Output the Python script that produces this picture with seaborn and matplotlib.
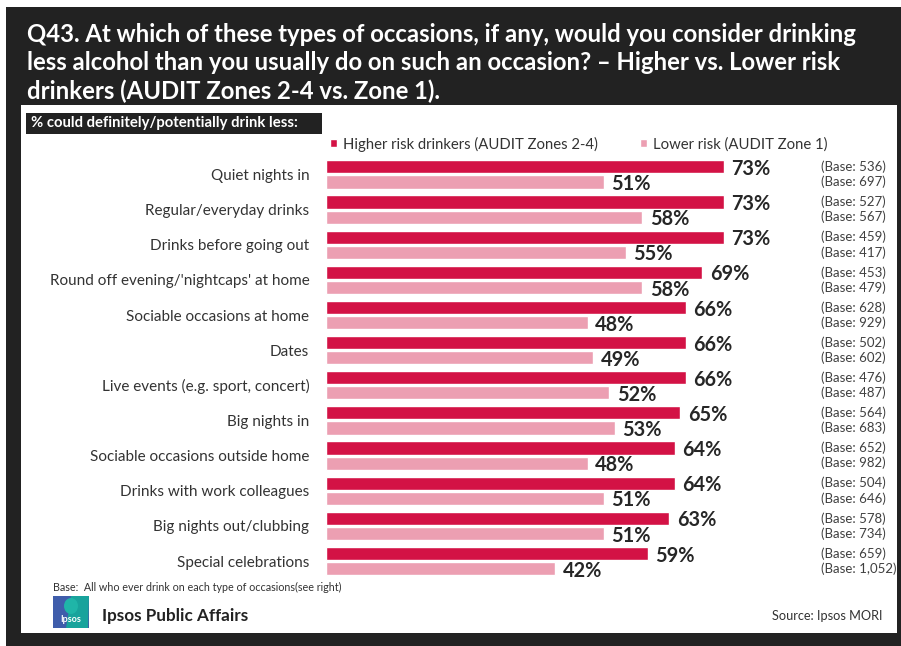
import numpy as np
import pandas as pd
import matplotlib
matplotlib.use('Agg')
import matplotlib.pyplot as plt
import matplotlib.transforms as mtransforms
from matplotlib.patches import Rectangle, Polygon, Ellipse
import seaborn as sns

# --- data ---
occasions = [
    "Quiet nights in", "Regular/everyday drinks", "Drinks before going out",
    "Round off evening/'nightcaps' at home", "Sociable occasions at home", "Dates",
    "Live events (e.g. sport, concert)", "Big nights in", "Sociable occasions outside home",
    "Drinks with work colleagues", "Big nights out/clubbing", "Special celebrations",
]
higher_risk = [73, 73, 73, 69, 66, 66, 66, 65, 64, 64, 63, 59]
lower_risk = [51, 58, 55, 58, 48, 49, 52, 53, 48, 51, 51, 42]
higher_base = ["536", "527", "459", "453", "628", "502", "476", "564", "652", "504", "578", "659"]
lower_base = ["697", "567", "417", "479", "929", "602", "487", "683", "982", "646", "734", "1,052"]
series_names = ["Higher risk drinkers (AUDIT Zones 2-4)", "Lower risk (AUDIT Zone 1)"]

title = ("Q43. At which of these types of occasions, if any, would you consider drinking\n"
         "less alcohol than you usually do on such an occasion? \u2013 Higher vs. Lower risk\n"
         "drinkers (AUDIT Zones 2-4 vs. Zone 1).")

RED = "#D31245"
PINK = "#EC9FB2"
DARK = "#222222"

df = pd.DataFrame({
    "occasion": occasions * 2,
    "value": higher_risk + lower_risk,
    "series": [series_names[0]] * len(occasions) + [series_names[1]] * len(occasions),
})

sns.set_style("white")
plt.rcParams["font.family"] = ["Lato", "DejaVu Sans"]

W, H = 901, 646
fig = plt.figure(figsize=(W / 100, H / 100), dpi=100)


def fx(px):
    return px / W


def fy(py):
    return 1 - py / H


# dark frame + white panel
fig.add_artist(Rectangle((fx(6), 0), fx(901) - fx(6), fy(7), transform=fig.transFigure,
                         facecolor=DARK, edgecolor="none", zorder=0))
fig.add_artist(Rectangle((fx(21), fy(633)), fx(897) - fx(21), fy(105) - fy(633),
                         transform=fig.transFigure, facecolor="white", edgecolor="none", zorder=0))

fig.text(fx(27), fy(23.5), title, color="white", fontsize=17.2, fontweight="bold",
         va="top", ha="left", linespacing=1.25)

# subtitle box
fig.add_artist(Rectangle((fx(26), fy(134)), fx(322) - fx(26), fy(113) - fy(134),
                         transform=fig.transFigure, facecolor=DARK, edgecolor="none", zorder=1))
fig.text(fx(31), fy(123.5), "% could definitely/potentially drink less:", color="white",
         fontsize=10.7, fontweight="bold", va="center", ha="left", zorder=2)

# --- bars ---
ax = fig.add_axes([fx(326), fy(578.6), 545 / W, 421.7 / H])
sns.barplot(data=df, y="occasion", x="value", hue="series", orient="h",
            palette=[RED, PINK], saturation=1, width=0.86, gap=0.13, ax=ax)
ax.set_xlim(0, 100)
ax.set_xlabel("")
ax.set_ylabel("")
ax.set_xticks([])
ax.tick_params(axis="y", length=0, pad=12, labelsize=11, labelcolor="#333333")
sns.despine(ax=ax, left=True, bottom=True)
ax.set_facecolor("none")

for container in ax.containers:
    vals = [int(round(b.get_width())) for b in container]
    labels = ax.bar_label(container, labels=[f"{v}%" for v in vals], padding=5.5,
                          fontsize=14.3, fontweight="bold", color="#262626")
    for t in labels:
        t.xyann = (t.xyann[0], -1.5)

# base sizes on the right
trans = mtransforms.blended_transform_factory(fig.transFigure, ax.transData)
for container, bases in zip(ax.containers, [higher_base, lower_base]):
    for bar, b in zip(container, bases):
        yc = bar.get_y() + bar.get_height() / 2
        ax.text(fx(821), yc, f"(Base: {b})", transform=trans, ha="left", va="center",
                fontsize=9.5, color="#404040", clip_on=False)

# legend
handles, labels = ax.get_legend_handles_labels()
ax.legend(handles, labels, ncol=2, loc="center left", bbox_to_anchor=(fx(330), fy(144)),
          bbox_transform=fig.transFigure, frameon=False, fontsize=10.7,
          handlelength=0.5, handleheight=0.5, handletextpad=0.4, columnspacing=2.8,
          borderpad=0, borderaxespad=0, labelcolor="#333333")

# footer
fig.text(fx(53), fy(587), "Base:  All who ever drink on each type of occasions(see right)",
         fontsize=7.75, color="#333333", va="center", ha="left")
fig.text(fx(102), fy(616), "Ipsos Public Affairs", fontsize=12.3, fontweight="bold",
         color="#222222", va="center", ha="left")
fig.text(fx(883), fy(616), "Source: Ipsos MORI", fontsize=9.2, color="#333333",
         va="center", ha="right")

# Ipsos logo
fig.add_artist(Rectangle((fx(53), fy(628)), fx(89) - fx(53), fy(596) - fy(628),
                         transform=fig.transFigure, facecolor="#3F5DAB", edgecolor="none"))
fig.add_artist(Polygon([(fx(71), fy(596)), (fx(89), fy(596)), (fx(88), fy(628)), (fx(66), fy(628))],
                       closed=True, transform=fig.transFigure, facecolor="#18A39C", edgecolor="none"))
fig.add_artist(Ellipse((fx(71), fy(606)), fx(14) - fx(0), fy(0) - fy(16),
                       transform=fig.transFigure, facecolor="#1FB5A8", edgecolor="none"))
fig.text(fx(71), fy(620), "Ipsos", fontsize=6.5, color="white", ha="center", va="center",
         fontweight="bold")

fig.savefig("out.png", dpi=100)
